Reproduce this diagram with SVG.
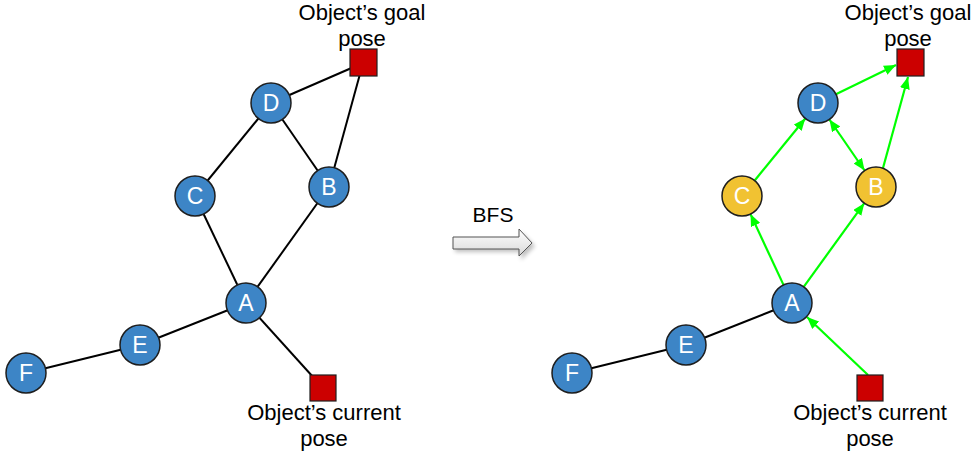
<svg xmlns="http://www.w3.org/2000/svg" width="977" height="456" viewBox="0 0 977 456">
  <defs>
    <style>
      .edge { stroke: #000; stroke-width: 2; fill: none; }
      .path { stroke: #00ff00; stroke-width: 2.2; fill: none; }
      .node circle { stroke: #1e1e1e; stroke-width: 1.5; }
      .blue circle { fill: #3d85c6; }
      .gold circle { fill: #f1c232; }
      .node text { font-family: "Liberation Sans", Arial, sans-serif; font-size: 23px; fill: #fff; text-anchor: middle; }
      .pose rect { fill: #cc0000; stroke: #1e1e1e; stroke-width: 1.2; }
      .label { font-family: "Liberation Sans", Arial, sans-serif; font-size: 22px; fill: #000; text-anchor: middle; }
    </style>
    <marker id="head" viewBox="0 0 12 10" refX="12" refY="5" markerWidth="12" markerHeight="10" markerUnits="userSpaceOnUse" orient="auto-start-reverse">
      <path d="M0,0 L12,5 L0,10 z" fill="#00ff00"/>
    </marker>
    <linearGradient id="arrowFill" x1="0" y1="0" x2="0" y2="1">
      <stop offset="0" stop-color="#ffffff"/>
      <stop offset="1" stop-color="#d9d9d9"/>
    </linearGradient>
    <filter id="soft" x="-20%" y="-40%" width="140%" height="180%">
      <feGaussianBlur stdDeviation="2"/>
    </filter>
  </defs>

  <!-- left graph: plain edges -->
  <g id="edges-left">
    <line class="edge" x1="271" y1="103" x2="363" y2="63"/>
    <line class="edge" x1="271" y1="103" x2="195" y2="196"/>
    <line class="edge" x1="271" y1="103" x2="329" y2="187"/>
    <line class="edge" x1="329" y1="187" x2="363" y2="63"/>
    <line class="edge" x1="195" y1="196" x2="246" y2="303"/>
    <line class="edge" x1="329" y1="187" x2="246" y2="303"/>
    <line class="edge" x1="246" y1="303" x2="140" y2="345"/>
    <line class="edge" x1="140" y1="345" x2="26" y2="373"/>
    <line class="edge" x1="246" y1="303" x2="323" y2="388"/>
  </g>

  <!-- right graph: search result edges -->
  <g id="edges-right">
    <line class="edge" x1="792" y1="303" x2="686" y2="345"/>
    <line class="edge" x1="686" y1="345" x2="572" y2="373"/>
    <line class="path" x1="754.7" y1="180.5" x2="805.3" y2="118.5" marker-end="url(#head)"/>
    <line class="path" x1="783.5" y1="284.9" x2="750.5" y2="214.1" marker-end="url(#head)"/>
    <line class="path" x1="803.7" y1="286.8" x2="864.3" y2="203.2" marker-end="url(#head)"/>
    <line class="path" x1="829.4" y1="119.5" x2="864.6" y2="170.5" marker-start="url(#head)" marker-end="url(#head)"/>
    <line class="path" x1="835.9" y1="94.2" x2="896" y2="65" marker-end="url(#head)"/>
    <line class="path" x1="883" y1="168" x2="908" y2="77" marker-end="url(#head)"/>
    <line class="path" x1="868" y1="375" x2="807" y2="317" marker-end="url(#head)"/>
  </g>

  <!-- left graph nodes -->
  <g id="L-D" class="node blue"><circle cx="271" cy="103" r="20"/><text x="271" y="111">D</text></g>
  <g id="L-C" class="node blue"><circle cx="195" cy="196" r="20"/><text x="195" y="204">C</text></g>
  <g id="L-B" class="node blue"><circle cx="329" cy="187" r="20"/><text x="329" y="195">B</text></g>
  <g id="L-A" class="node blue"><circle cx="246" cy="303" r="20"/><text x="246" y="311">A</text></g>
  <g id="L-E" class="node blue"><circle cx="140" cy="345" r="20"/><text x="140" y="353">E</text></g>
  <g id="L-F" class="node blue"><circle cx="26" cy="373" r="20"/><text x="26" y="381">F</text></g>
  <g id="L-goal" class="pose">
    <rect x="350" y="49" width="27" height="27"/>
    <text class="label" x="362" y="20">Object’s goal</text>
    <text class="label" x="362" y="46">pose</text>
  </g>
  <g id="L-current" class="pose">
    <rect x="310" y="375" width="26" height="26"/>
    <text class="label" x="324" y="420">Object’s current</text>
    <text class="label" x="324" y="446">pose</text>
  </g>

  <!-- BFS transition arrow -->
  <g id="bfs">
    <text class="label" x="493" y="222" style="font-size:21px">BFS</text>
    <path d="M455,240 H521 V232 L535,246 L521,260 V252 H455 z" fill="#000" opacity="0.25" filter="url(#soft)"/>
    <path d="M453,237 H519 V229 L532,243 L519,256 V249 H453 z" fill="url(#arrowFill)" stroke="#555" stroke-width="1"/>
  </g>

  <!-- right graph nodes -->
  <g id="R-D" class="node blue"><circle cx="818" cy="103" r="20"/><text x="818" y="111">D</text></g>
  <g id="R-C" class="node gold"><circle cx="742" cy="196" r="20"/><text x="742" y="204">C</text></g>
  <g id="R-B" class="node gold"><circle cx="876" cy="187" r="20"/><text x="876" y="195">B</text></g>
  <g id="R-A" class="node blue"><circle cx="792" cy="303" r="20"/><text x="792" y="311">A</text></g>
  <g id="R-E" class="node blue"><circle cx="686" cy="345" r="20"/><text x="686" y="353">E</text></g>
  <g id="R-F" class="node blue"><circle cx="572" cy="373" r="20"/><text x="572" y="381">F</text></g>
  <g id="R-goal" class="pose">
    <rect x="897" y="49" width="27" height="27"/>
    <text class="label" x="908" y="20">Object’s goal</text>
    <text class="label" x="908" y="46">pose</text>
  </g>
  <g id="R-current" class="pose">
    <rect x="857" y="375" width="26" height="26"/>
    <text class="label" x="870" y="420">Object’s current</text>
    <text class="label" x="870" y="446">pose</text>
  </g>
</svg>
